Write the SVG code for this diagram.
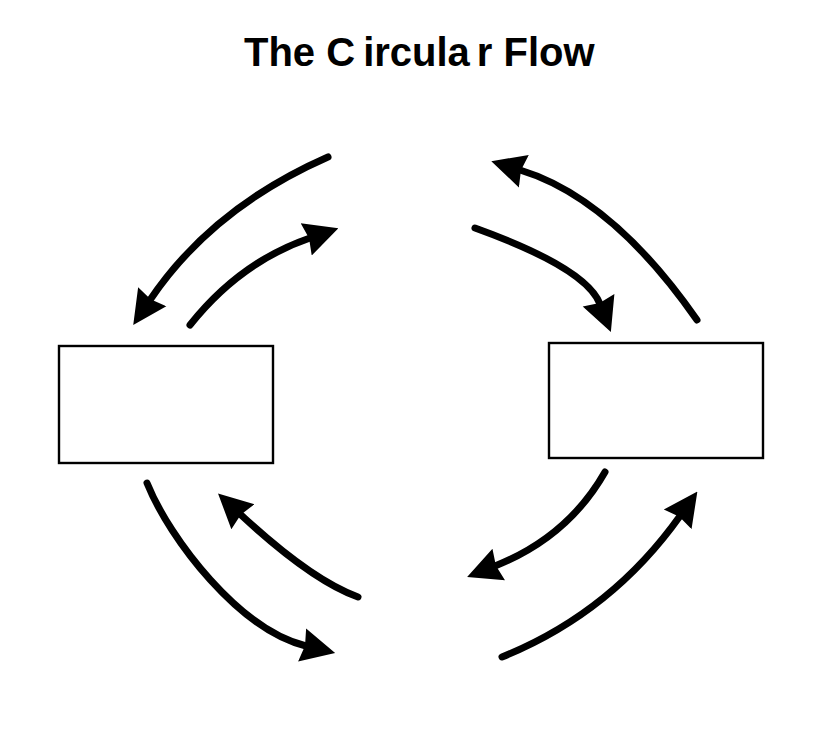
<svg xmlns="http://www.w3.org/2000/svg" width="830" height="736" viewBox="0 0 830 736">
<style>
.title{font-family:"Liberation Sans",Arial,sans-serif;font-weight:bold;font-size:40px;fill:#000}
.box{fill:#fff;stroke:#000;stroke-width:2.4}
.flow{fill:none;stroke:#000;stroke-width:7;stroke-linecap:round;marker-end:url(#head)}
</style>
<defs>
<marker id="head" markerUnits="userSpaceOnUse" viewBox="0 0 34 36" markerWidth="34" markerHeight="36" refX="4" refY="18" orient="auto">
<path d="M0,1 L34,18 L0,35 L3,18 Z" fill="#000"/>
</marker>
</defs>
<rect width="830" height="736" fill="#fff"/>
<text class="title" x="244" y="66">The C<tspan dx="8">ircula</tspan><tspan dx="7">r Flow</tspan></text>
<g id="node-left"><rect class="box" x="59" y="346" width="214" height="117"/></g>
<g id="node-right"><rect class="box" x="549" y="343" width="214" height="115"/></g>
<g id="connectors">
<path class="flow" d="M328,157 Q212,208 150,300"/>
<path class="flow" d="M190,325 Q240,262 310,238"/>
<path class="flow" d="M697,320 Q612,198 520,170"/>
<path class="flow" d="M475,228 Q586,268 600,304"/>
<path class="flow" d="M147,483 C170,540 240,630 306,646"/>
<path class="flow" d="M358,597 Q311,580 240,514"/>
<path class="flow" d="M605,472 Q568,537 495,566"/>
<path class="flow" d="M502,657 Q611,613 680,516"/>
</g>
</svg>
